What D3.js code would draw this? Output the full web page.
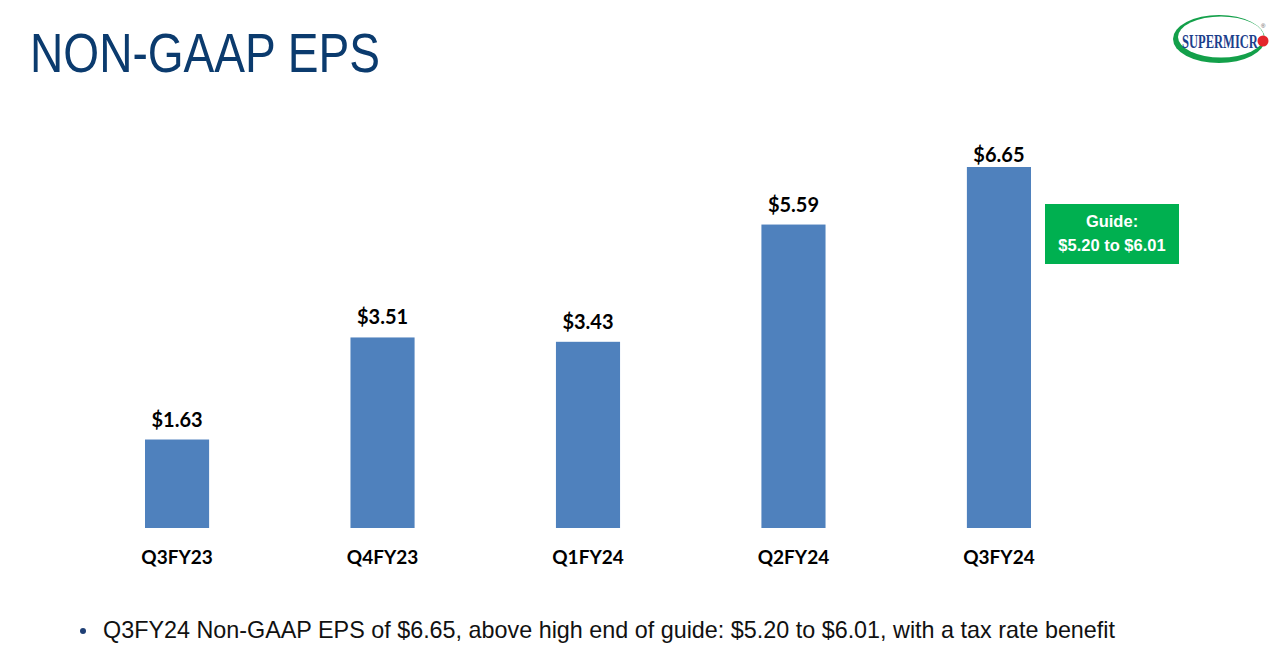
<!DOCTYPE html>
<html>
    <head>
        <meta charset="utf-8" />
        <title>Non-GAAP EPS</title>
        <script src="https://d3js.org/d3.v7.min.js"></script>
        <style>
            body { margin: 0; background-color: white; }
        </style>
    </head>
    <body>
        <svg width="1280" height="662" id="chart"></svg>

        <script>
            // data
            var quarters = ["Q3FY23", "Q4FY23", "Q1FY24", "Q2FY24", "Q3FY24"];
            var eps = [1.63, 3.51, 3.43, 5.59, 6.65];
            var guideLines = ["Guide:", "$5.20 to $6.01"];
            var note = "Q3FY24 Non-GAAP EPS of $6.65, above high end of guide: $5.20 to $6.01, with a tax rate benefit";

            var svg = d3.select("#chart");

            // title
            svg.append("text")
                .attr("x", 30).attr("y", 72)
                .attr("font-family", "Liberation Sans, Arial, sans-serif")
                .attr("font-size", 55)
                .attr("textLength", 350)
                .attr("lengthAdjust", "spacingAndGlyphs")
                .attr("fill", "#0b3b6e")
                .text("NON-GAAP EPS");

            // logo
            var logo = svg.append("g");
            logo.append("ellipse")
                .attr("cx", 1219).attr("cy", 39).attr("rx", 46).attr("ry", 24)
                .attr("fill", "#13a04a");
            logo.append("ellipse")
                .attr("cx", 1221).attr("cy", 37).attr("rx", 43).attr("ry", 20.5)
                .attr("fill", "white");
            logo.append("circle")
                .attr("cx", 1263).attr("cy", 41).attr("r", 5.5)
                .attr("fill", "#e3262b");
            // squeeze the wordmark with a transform so its box stays inside the page
            logo.append("text")
                .attr("transform", "translate(1182,48) scale(0.66,1)")
                .attr("font-family", "Liberation Serif, DejaVu Serif, serif")
                .attr("font-weight", "bold")
                .attr("font-size", 19)
                .attr("fill", "#1d3f8c")
                .text("SUPERMICR");
            logo.append("text")
                .attr("x", 1261).attr("y", 28)
                .attr("font-family", "Liberation Sans, sans-serif")
                .attr("font-size", 6)
                .attr("fill", "#555")
                .text("®");

            // scales
            var x = d3.scaleBand()
                .domain(quarters)
                .range([145, 1031])
                .paddingInner(0.688)
                .paddingOuter(0);

            var y = d3.scaleLinear()
                .domain([0, 7])
                .range([528, 148]);

            var rows = quarters.map(function(q, i) {
                return { quarter: q, value: eps[i] };
            });

            // bars
            svg.selectAll("rect.bar")
                .data(rows)
                .join("rect")
                .attr("class", "bar")
                .attr("x", function(d) { return x(d.quarter); })
                .attr("y", function(d) { return y(d.value); })
                .attr("width", x.bandwidth())
                .attr("height", function(d) { return y(0) - y(d.value); })
                .attr("fill", "#4f81bd");

            // value labels (the top one is held down by the plot area's top edge)
            svg.selectAll("text.val")
                .data(rows)
                .join("text")
                .attr("class", "val")
                .attr("x", function(d) { return x(d.quarter) + x.bandwidth() / 2; })
                .attr("y", function(d) { return Math.max(y(d.value) - 13, 162); })
                .attr("text-anchor", "middle")
                .attr("font-family", "Lato, Open Sans, sans-serif")
                .attr("font-weight", "bold")
                .attr("font-size", 20)
                .attr("fill", "#000")
                .text(function(d) { return "$" + d.value.toFixed(2); });

            // category axis (no line, no ticks)
            var xAxis = svg.append("g")
                .attr("transform", "translate(0," + y(0) + ")")
                .call(d3.axisBottom(x).tickSize(0).tickPadding(36));
            xAxis.select(".domain").remove();
            xAxis.selectAll("text")
                .attr("font-family", "Lato, Open Sans, sans-serif")
                .attr("font-weight", "bold")
                .attr("font-size", 19)
                .attr("fill", "#000")
                .attr("dy", 0);

            // guide box
            var gx = 1045, gy = 204;
            svg.append("rect")
                .attr("x", gx).attr("y", gy)
                .attr("width", 134).attr("height", 60)
                .attr("fill", "#00b050");
            svg.selectAll("text.guide")
                .data(guideLines)
                .join("text")
                .attr("class", "guide")
                .attr("x", gx + 67)
                .attr("y", function(d, i) { return gy + 23 + i * 24; })
                .attr("text-anchor", "middle")
                .attr("font-family", "Liberation Sans, Arial, sans-serif")
                .attr("font-weight", "bold")
                .attr("font-size", 16.5)
                .attr("fill", "white")
                .text(function(d) { return d; });

            // bullet note
            svg.append("circle")
                .attr("cx", 83).attr("cy", 631).attr("r", 3)
                .attr("fill", "#1f3f75");
            svg.append("text")
                .attr("x", 103).attr("y", 638)
                .attr("font-family", "Liberation Sans, Arial, sans-serif")
                .attr("font-size", 24)
                .attr("textLength", 1012)
                .attr("lengthAdjust", "spacingAndGlyphs")
                .attr("fill", "#111")
                .text(note);
        </script>
    </body>
</html>
